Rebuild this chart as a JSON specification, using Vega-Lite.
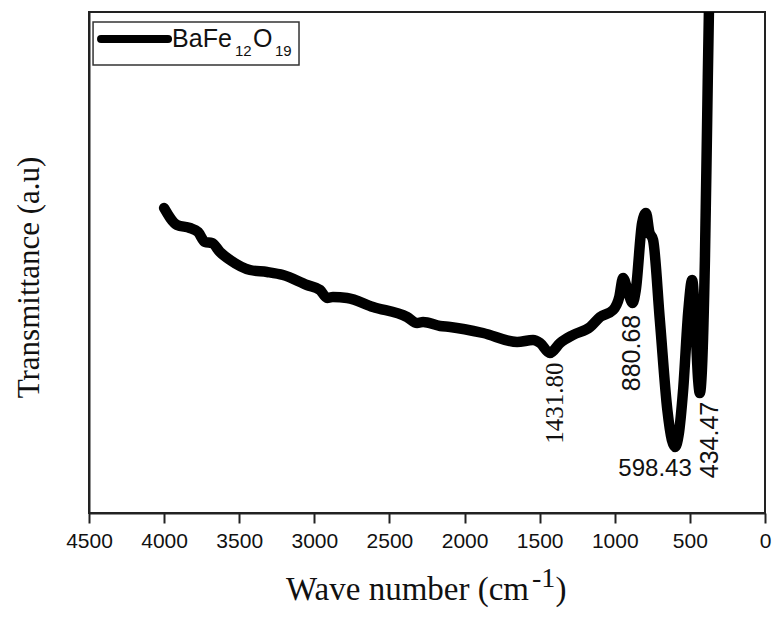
{
  "$schema": "https://vega.github.io/schema/vega-lite/v6.json",
  "width": 676,
  "height": 501,
  "autosize": {"type": "none"},
  "padding": {"left": 89, "top": 12, "right": 7, "bottom": 106},
  "background": "white",
  "config": {
    "view": {"stroke": "#222", "strokeWidth": 2},
    "axis": {"domainColor": "#222", "tickColor": "#222", "domainWidth": 2, "tickWidth": 2, "grid": false}
  },
  "datasets": {
    "spectrum": [
      {"w": 4000, "v": 305}, {"w": 3914, "v": 288}, {"w": 3828, "v": 285}, {"w": 3774, "v": 281},
      {"w": 3728, "v": 271}, {"w": 3681, "v": 270}, {"w": 3628, "v": 261}, {"w": 3561, "v": 253},
      {"w": 3428, "v": 243}, {"w": 3315, "v": 241}, {"w": 3208, "v": 238}, {"w": 3049, "v": 228},
      {"w": 2962, "v": 223}, {"w": 2915, "v": 215}, {"w": 2876, "v": 216}, {"w": 2782, "v": 215},
      {"w": 2609, "v": 206}, {"w": 2383, "v": 196}, {"w": 2316, "v": 190}, {"w": 2276, "v": 191},
      {"w": 2163, "v": 187}, {"w": 2096, "v": 186}, {"w": 1877, "v": 180}, {"w": 1650, "v": 171},
      {"w": 1544, "v": 173}, {"w": 1497, "v": 170}, {"w": 1432, "v": 160}, {"w": 1364, "v": 170},
      {"w": 1278, "v": 178}, {"w": 1164, "v": 186}, {"w": 1098, "v": 196}, {"w": 1011, "v": 203},
      {"w": 970, "v": 216}, {"w": 945, "v": 235}, {"w": 915, "v": 223}, {"w": 881, "v": 210},
      {"w": 860, "v": 223}, {"w": 818, "v": 290}, {"w": 792, "v": 300}, {"w": 770, "v": 281},
      {"w": 745, "v": 273}, {"w": 700, "v": 193}, {"w": 650, "v": 103}, {"w": 620, "v": 73},
      {"w": 598, "v": 66}, {"w": 575, "v": 78}, {"w": 545, "v": 123}, {"w": 510, "v": 203},
      {"w": 485, "v": 233}, {"w": 465, "v": 193}, {"w": 445, "v": 133}, {"w": 434, "v": 120},
      {"w": 420, "v": 143}, {"w": 400, "v": 253}, {"w": 385, "v": 393}, {"w": 372, "v": 513},
      {"w": 365, "v": 540}
    ],
    "peaksSerif": [{"label": "1431.80", "w": 1397, "v": 110}],
    "peaksRot": [{"label": "880.68", "w": 885, "v": 160}, {"label": "434.47", "w": 366, "v": 73}],
    "peaksFlat": [{"label": "598.43", "w": 732, "v": 44.5}],
    "one": [{"k": 1}]
  },
  "layer": [
    {
      "data": {"name": "spectrum"},
      "mark": {"type": "line", "color": "black", "strokeWidth": 10.5, "strokeCap": "round", "strokeJoin": "round", "clip": true, "interpolate": "monotone"},
      "encoding": {
        "x": {
          "field": "w", "type": "quantitative",
          "scale": {"domain": [4500, 0], "nice": false, "zero": false},
          "axis": {
            "values": [4500, 4250, 4000, 3750, 3500, 3250, 3000, 2750, 2500, 2250, 2000, 1750, 1500, 1250, 1000, 750, 500, 250, 0],
            "labelExpr": "datum.value % 500 === 0 ? datum.label : ''",
            "format": "d",
            "tickSize": {"condition": {"test": "datum.value % 500 === 0", "value": 10}, "value": 5},
            "labelPadding": 7,
            "labelFont": "Liberation Sans",
            "labelFontSize": 21,
            "labelColor": "#111",
            "labelFlush": false,
            "labelOverlap": false,
            "title": null
          }
        },
        "y": {
          "field": "v", "type": "quantitative",
          "scale": {"domain": [0, 501], "nice": false, "zero": false},
          "axis": {
            "ticks": false, "labels": false,
            "title": "Transmittance (a.u)",
            "titleFont": "Liberation Serif", "titleFontSize": 31, "titleFontWeight": "normal",
            "titleColor": "#111",
            "titleAngle": 270, "titleAlign": "center", "titleBaseline": "alphabetic",
            "titleX": -51, "titleY": 265
          }
        }
      }
    },
    {
      "data": {"name": "peaksSerif"},
      "mark": {"type": "text", "font": "Liberation Serif", "fontSize": 25, "angle": 270, "align": "center", "baseline": "middle", "color": "#111"},
      "encoding": {"x": {"field": "w", "type": "quantitative"}, "y": {"field": "v", "type": "quantitative"}, "text": {"field": "label"}}
    },
    {
      "data": {"name": "peaksRot"},
      "mark": {"type": "text", "font": "Liberation Sans", "fontSize": 25, "angle": 270, "align": "center", "baseline": "middle", "color": "#111"},
      "encoding": {"x": {"field": "w", "type": "quantitative"}, "y": {"field": "v", "type": "quantitative"}, "text": {"field": "label"}}
    },
    {
      "data": {"name": "peaksFlat"},
      "mark": {"type": "text", "font": "Liberation Sans", "fontSize": 24, "align": "center", "baseline": "middle", "color": "#111"},
      "encoding": {"x": {"field": "w", "type": "quantitative"}, "y": {"field": "v", "type": "quantitative"}, "text": {"field": "label"}}
    },
    {
      "data": {"name": "one"},
      "mark": {"type": "rect", "fill": "white", "stroke": "#333", "strokeWidth": 1.5},
      "encoding": {"x": {"datum": 4473}, "x2": {"datum": 3102}, "y": {"datum": 491}, "y2": {"datum": 448}}
    },
    {
      "data": {"name": "one"},
      "mark": {"type": "rule", "color": "black", "strokeWidth": 8, "strokeCap": "round"},
      "encoding": {"x": {"datum": 4420}, "x2": {"datum": 3974}, "y": {"datum": 474}}
    },
    {
      "data": {"name": "one"},
      "mark": {"type": "text", "font": "Liberation Sans", "fontSize": 25, "align": "left", "baseline": "alphabetic", "color": "#111"},
      "encoding": {"x": {"datum": 3947}, "y": {"datum": 466}, "text": {"value": "BaFe"}}
    },
    {
      "data": {"name": "one"},
      "mark": {"type": "text", "font": "Liberation Sans", "fontSize": 15, "align": "left", "baseline": "alphabetic", "color": "#111"},
      "encoding": {"x": {"datum": 3528}, "y": {"datum": 457}, "text": {"value": "12"}}
    },
    {
      "data": {"name": "one"},
      "mark": {"type": "text", "font": "Liberation Sans", "fontSize": 25, "align": "left", "baseline": "alphabetic", "color": "#111"},
      "encoding": {"x": {"datum": 3408}, "y": {"datum": 466}, "text": {"value": "O"}}
    },
    {
      "data": {"name": "one"},
      "mark": {"type": "text", "font": "Liberation Sans", "fontSize": 15, "align": "left", "baseline": "alphabetic", "color": "#111"},
      "encoding": {"x": {"datum": 3262}, "y": {"datum": 457}, "text": {"value": "19"}}
    },
    {
      "data": {"name": "one"},
      "mark": {"type": "text", "font": "Liberation Serif", "fontSize": 33, "align": "left", "baseline": "alphabetic", "color": "#111"},
      "encoding": {"x": {"datum": 3188}, "y": {"datum": -87}, "text": {"value": "Wave number (cm"}}
    },
    {
      "data": {"name": "one"},
      "mark": {"type": "text", "font": "Liberation Serif", "fontSize": 28, "align": "left", "baseline": "alphabetic", "color": "#111"},
      "encoding": {"x": {"datum": 1551}, "y": {"datum": -74}, "text": {"value": "-1"}}
    },
    {
      "data": {"name": "one"},
      "mark": {"type": "text", "font": "Liberation Serif", "fontSize": 33, "align": "left", "baseline": "alphabetic", "color": "#111"},
      "encoding": {"x": {"datum": 1395}, "y": {"datum": -87}, "text": {"value": ")"}}
    }
  ]
}
